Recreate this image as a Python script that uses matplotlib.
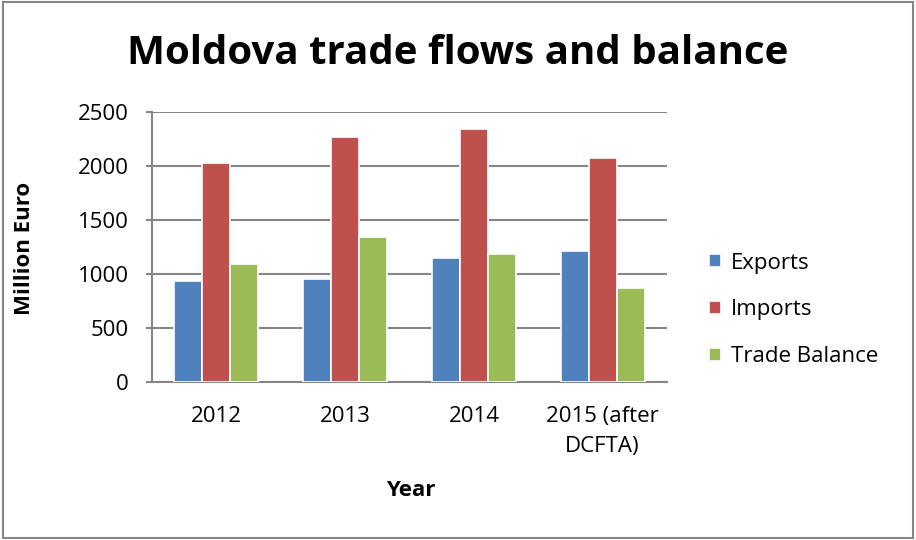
import numpy as np
import matplotlib.pyplot as plt
from matplotlib.patches import Rectangle

years = ["2012", "2013", "2014", "2015 (after\nDCFTA)"]
exports = [935, 955, 1152, 1211]
imports = [2030, 2268, 2345, 2070]
trade_balance = [1094, 1344, 1189, 874]

series = [("Exports", exports, "#4F81BD"),
          ("Imports", imports, "#C0504D"),
          ("Trade Balance", trade_balance, "#9BBB59")]

plt.rcParams['font.family'] = ['Open Sans', 'DejaVu Sans']

fig = plt.figure(figsize=(9.16, 5.4), dpi=100)
ax = fig.add_axes([152/916, 1-382/540, (667-152)/916, 270/540])

x = np.arange(len(years))
w = 0.217
for i, (name, vals, col) in enumerate(series):
    ax.bar(x + (i-1)*w, vals, w, color=col, edgecolor="white", linewidth=1.2, label=name, zorder=3)

ax.set_xlim(-0.5, len(years)-0.5)
ax.set_ylim(0, 2500)
ax.set_yticks(range(0, 2501, 500))
ax.set_xticks(x)
ax.set_xticklabels(years, fontsize=16, linespacing=1.6, va="top")
ax.tick_params(axis='x', length=0, pad=17)
ax.tick_params(axis='y', labelsize=16, length=4.5, color="#868686", width=1.5, pad=12)
ax.grid(axis='y', color="#868686", linewidth=1.5, zorder=0)
for s in ["top", "right"]:
    ax.spines[s].set_visible(False)
for s in ["left", "bottom"]:
    ax.spines[s].set_color("#868686")
    ax.spines[s].set_linewidth(1.5)

fig.text(25/916, 1-248/540, "Million Euro", fontsize=16, fontweight="bold",
         rotation=90, ha="center", va="center")
fig.text(411/916, 1-490/540, "Year", fontsize=16, fontweight="bold", ha="center", va="center")

fig.text(0.5, 1-53/540, "Moldova trade flows and balance", fontsize=29, fontweight="bold",
         ha="center", va="center")

fig.legend(loc="center left", bbox_to_anchor=(709/916, 1-310/540), frameon=False,
           borderpad=0, borderaxespad=0,
           fontsize=16, handlelength=0.55, handleheight=0.55, handletextpad=0.45, labelspacing=1.17)

fig.patches.append(Rectangle((0.003, 0.004), 0.994, 0.992, transform=fig.transFigure,
                             fill=False, edgecolor="#868686", linewidth=1.5))

fig.savefig("out.png", dpi=100)
